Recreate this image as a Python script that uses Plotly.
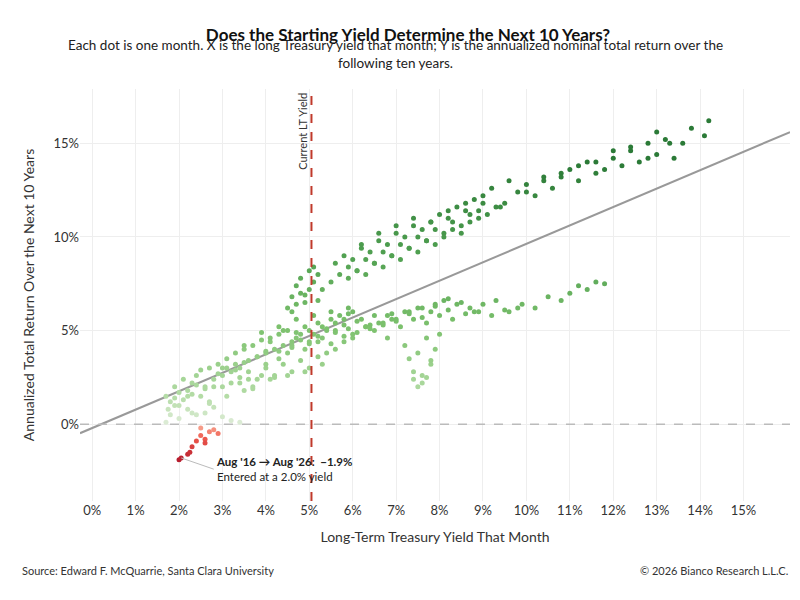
import plotly.graph_objects as go

yield_x = [
1.7,1.8,1.9,2.0,2.1,2.2,2.3,2.4,2.5,2.6,2.7,2.8,2.9,3.0,1.8,2.0,2.2,2.4,2.6,2.8,3.0,3.2,3.4,1.7,1.75,1.9,2.1,2.3,2.5,2.7,2.9,
2.0,2.05,2.2,2.25,2.3,2.4,2.5,2.6,2.7,2.8,2.9,2.5,2.6,
3.1,3.2,3.3,3.4,3.5,3.6,3.7,3.8,3.9,4.0,4.1,4.2,4.3,4.4,4.5,4.6,4.7,4.8,4.9,5.0,5.1,5.2,5.3,5.4,5.5,5.6,5.7,5.8,5.9,6.0,
3.2,3.4,3.6,3.8,4.0,4.2,4.4,4.6,4.8,5.0,5.2,5.4,5.6,5.8,6.0,3.5,3.9,4.3,4.7,5.1,5.5,5.9,3.0,3.3,3.7,4.1,4.5,4.9,5.3,
4.5,4.6,4.7,4.8,4.9,5.0,5.1,5.2,4.6,4.8,5.0,5.2,4.7,4.9,5.1,
5.3,5.5,5.7,5.9,6.1,6.3,6.5,6.7,6.9,7.1,7.3,7.5,7.7,7.9,8.1,8.3,8.5,8.7,8.9,
5.6,5.8,6.0,6.2,6.4,6.6,6.8,7.0,7.2,7.4,7.6,7.8,8.0,8.2,8.4,8.6,8.8,9.0,
5.9,6.1,6.3,6.5,6.7,6.9,7.1,7.3,7.5,7.7,7.9,8.1,8.3,8.5,8.7,8.9,9.1,9.3,9.5,
6.2,6.6,7.0,7.4,7.8,8.2,8.6,9.0,9.4,9.8,10.0,10.2,10.4,10.6,10.8,11.0,11.2,11.4,11.6,11.8,12.0,12.2,12.4,12.6,12.8,13.0,13.2,13.4,13.6,13.8,14.1,14.2,
9.2,9.6,10.0,10.4,10.8,11.2,11.6,12.0,12.4,12.8,13.0,13.3,
6.0,6.3,6.6,6.9,7.2,7.5,7.8,8.1,8.4,8.7,9.0,9.3,9.6,9.9,10.2,10.5,10.8,11.0,11.2,11.4,11.6,11.8,
6.5,6.8,7.1,7.4,7.7,8.0,8.3,8.6,8.9,9.2,9.5,9.8,
7.2,7.3,7.4,7.5,7.6,7.7,7.8,7.9,8.0,7.4,7.6,7.8,7.5,7.7,
3.0,3.1,3.3,3.5,3.6,3.8,4.0,4.1,4.3,4.4,4.6,4.8,5.0,5.2,5.4,5.6,5.8,6.1,6.3,6.5,6.7,6.9,
3.4,3.7,3.9,4.2,4.5,4.7,5.0,5.3,5.6,5.9,6.2,6.4,6.8,7.0,7.3,7.6,7.9,8.2,8.5,8.8,
4.0,4.3,4.6,4.9,5.2,5.5,5.8,6.1,6.4,6.7,7.0,7.3,7.6,7.9,8.2,
2.0,2.2,2.4,2.6,2.8,1.9,2.3,2.7,3.1,3.5
]
return_y = [
1.5,1.2,2.0,1.0,2.4,1.8,2.2,2.6,1.5,2.0,3.0,2.4,3.2,2.0,0.5,0.3,0.8,0.5,0.6,0.9,0.4,0.2,0.1,0.1,0.8,1.4,1.3,1.6,2.9,1.2,2.7,
-1.9,-1.8,-1.6,-1.5,-1.2,-0.9,-0.6,-0.8,-0.4,-0.3,-0.5,-0.2,-1.0,
3.5,2.8,3.8,3.0,4.0,3.4,4.2,3.6,4.5,3.8,4.4,4.0,4.8,4.2,5.0,4.4,4.6,4.8,5.2,5.0,4.8,5.4,5.2,5.0,5.6,5.4,5.8,5.6,5.9,6.0,
2.2,2.5,2.8,2.4,3.0,2.6,3.2,2.8,3.4,3.0,3.6,3.8,4.0,4.4,4.6,4.2,4.9,5.2,5.6,5.8,6.0,6.2,3.0,3.2,2.0,2.4,2.6,2.8,3.2,
6.2,6.8,7.4,7.0,6.5,8.2,7.6,6.6,6.0,7.8,7.2,8.0,6.4,6.9,8.4,
7.2,7.6,8.0,8.4,8.2,8.8,8.6,9.2,9.0,9.6,9.4,10.0,9.8,10.4,10.2,10.8,10.6,11.2,11.0,
8.6,9.0,8.8,9.4,9.2,9.8,9.6,10.2,10.0,10.6,10.4,10.8,11.2,11.0,11.6,11.4,12.0,11.8,
7.8,8.2,8.0,8.6,8.4,9.0,8.8,9.4,9.2,9.8,9.6,10.0,10.4,10.2,10.8,11.4,11.2,11.6,11.8,
9.6,10.2,10.6,11.0,10.8,11.4,11.8,12.2,11.6,12.4,12.8,12.2,13.0,12.6,13.2,13.6,13.0,14.0,13.4,13.6,14.2,13.8,14.6,14.0,15.0,14.4,15.2,14.2,15.0,15.8,15.4,16.2,
12.6,13.0,12.4,13.2,13.4,13.8,14.0,14.6,14.8,14.2,15.6,15.0,
4.8,5.2,5.4,5.6,6.0,6.2,6.0,6.6,6.4,6.2,6.4,6.6,6.0,6.4,6.2,6.8,6.6,7.0,7.4,7.2,7.6,7.5,
5.0,4.6,5.2,5.6,5.4,5.8,5.6,5.9,6.0,5.8,6.1,6.2,
4.2,3.5,2.4,3.8,2.2,4.6,3.2,4.0,4.8,2.8,2.6,3.4,2.0,2.5,
2.6,3.0,2.9,3.3,2.4,3.6,3.2,4.6,3.9,5.0,4.2,4.5,4.3,4.7,5.1,4.9,5.3,5.5,5.2,5.8,5.4,5.9,
2.2,1.9,2.6,2.5,3.8,4.9,4.4,4.6,5.0,5.1,5.6,5.3,5.8,5.5,6.0,5.7,6.3,6.1,6.5,6.0,
3.9,3.5,4.1,4.0,4.4,4.3,4.7,4.9,5.1,5.3,5.6,5.9,6.2,6.4,6.7,
1.7,1.5,2.1,1.9,2.0,1.0,0.6,1.1,1.5,1.8
]
line_x = [-0.28, 16.07]
line_y = [-0.48, 15.6]
current_yield = 5.05
x_ticks = list(range(0, 16))
y_ticks = [0, 5, 10, 15]

colorscale = [[0, "#b2182b"], [0.08, "#ef5a4d"], [0.115, "#f7a08c"], [0.13, "#dcebd5"],
              [0.22, "#b3dca5"], [0.45, "#7cc16d"], [0.7, "#4f9f50"], [1, "#2b7a37"]]

fig = go.Figure()
fig.add_trace(go.Scatter(x=line_x, y=line_y, mode="lines",
                         line=dict(color="#999999", width=2), hoverinfo="skip"))
fig.add_trace(go.Scatter(x=yield_x, y=return_y, mode="markers",
                         marker=dict(size=5, color=return_y, colorscale=colorscale,
                                     cmin=-2, cmax=14), hoverinfo="skip"))
fig.add_hline(y=0, line=dict(color="#bbbbbb", dash="dash", width=1.5))
fig.add_vline(x=current_yield, line=dict(color="#c0392b", dash="dash", width=2))
fig.add_annotation(x=current_yield, y=17.8, xshift=-9, text="Current LT Yield", textangle=-90,
                   showarrow=False, yanchor="top", font=dict(size=11, color="#333"))
fig.add_annotation(x=2.05, y=-1.8, ax=2.8, ay=-2.4, axref="x", ayref="y", showarrow=True,
                   arrowhead=0, arrowcolor="#bbbbbb", arrowwidth=1, xanchor="left",
                   text="<b>Aug '16 → Aug '26:  −1.9%</b><br>Entered at a 2.0% yield",
                   align="left", font=dict(size=11.5, color="#222"))

fig.update_layout(
    width=800, height=600, template="plotly_white", showlegend=False,
    font=dict(family="Lato", color="#333"),
    margin=dict(l=72, r=18, t=81, b=107),
    title=dict(text="<b>Does the Starting Yield Determine the Next 10 Years?</b>",
               x=0.5, xref="container", y=0.965, xanchor="center", font=dict(size=17, color="#111")),
    xaxis=dict(range=[-0.28, 16.07], tickvals=x_ticks, ticktext=[f"{t}%" for t in x_ticks],
               title=dict(text="Long-Term Treasury Yield That Month", font=dict(size=14)),
               gridcolor="#eeeeee", zeroline=False, tickfont=dict(size=13)),
    yaxis=dict(range=[-4.1, 17.9], tickvals=y_ticks, ticktext=[f"{t}%" for t in y_ticks],
               title=dict(text="Annualized Total Return Over the Next 10 Years", font=dict(size=14)),
               gridcolor="#eeeeee", zeroline=False, tickfont=dict(size=13)),
)
fig.add_annotation(xref="paper", yref="paper", x=0.4444, y=1.13, showarrow=False,
                   text="Each dot is one month. X is the long Treasury yield that month; Y is the annualized nominal total return over the<br>following ten years.",
                   font=dict(size=13.5, color="#222"))
fig.add_annotation(xref="paper", yref="paper", x=-0.085, y=-0.19, xanchor="left", showarrow=False,
                   text="Source: Edward F. McQuarrie, Santa Clara University", font=dict(size=11))
fig.add_annotation(xref="paper", yref="paper", x=1.0, y=-0.19, xanchor="right", showarrow=False,
                   text="© 2026 Bianco Research L.L.C.", font=dict(size=11))
fig.write_html("out.html")
